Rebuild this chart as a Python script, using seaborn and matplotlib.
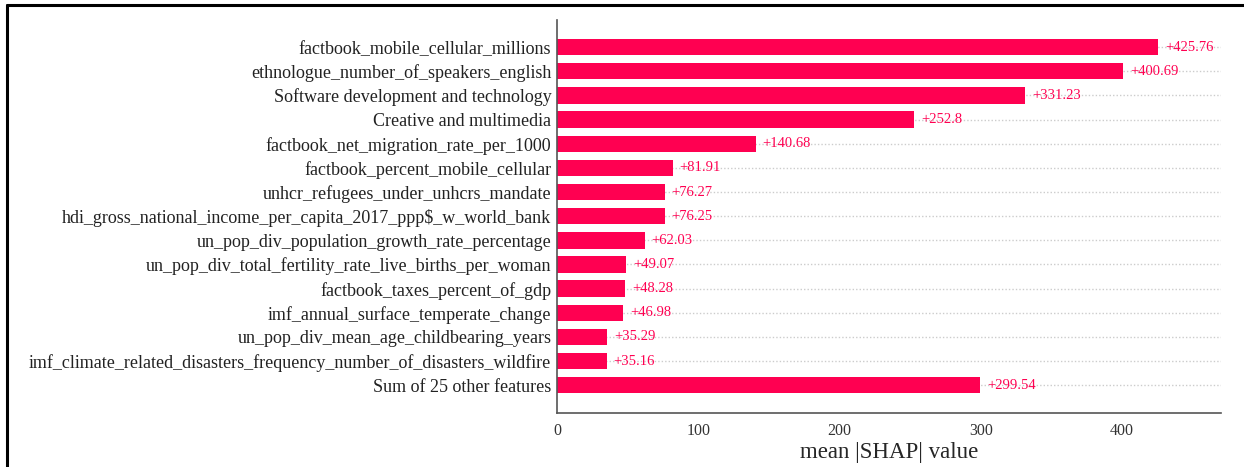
import matplotlib
matplotlib.use("Agg")
import matplotlib.pyplot as plt
import seaborn as sns
import pandas as pd
from matplotlib.lines import Line2D

features = [
    "factbook_mobile_cellular_millions",
    "ethnologue_number_of_speakers_english",
    "Software development and technology",
    "Creative and multimedia",
    "factbook_net_migration_rate_per_1000",
    "factbook_percent_mobile_cellular",
    "unhcr_refugees_under_unhcrs_mandate",
    "hdi_gross_national_income_per_capita_2017_ppp$_w_world_bank",
    "un_pop_div_population_growth_rate_percentage",
    "un_pop_div_total_fertility_rate_live_births_per_woman",
    "factbook_taxes_percent_of_gdp",
    "imf_annual_surface_temperate_change",
    "un_pop_div_mean_age_childbearing_years",
    "imf_climate_related_disasters_frequency_number_of_disasters_wildfire",
    "Sum of 25 other features",
]
mean_abs_shap = [425.76, 400.69, 331.23, 252.8, 140.68, 81.91, 76.27, 76.25,
                 62.03, 49.07, 48.28, 46.98, 35.29, 35.16, 299.54]
value_labels = ["+425.76", "+400.69", "+331.23", "+252.8", "+140.68", "+81.91",
                "+76.27", "+76.25", "+62.03", "+49.07", "+48.28", "+46.98",
                "+35.29", "+35.16", "+299.54"]
x_ticks = [0, 100, 200, 300, 400]

df = pd.DataFrame({"feature": features, "value": mean_abs_shap})

sns.set_style("white")
plt.rcParams["font.family"] = ["Liberation Serif", "DejaVu Serif"]

RED = "#ff0051"

fig = plt.figure(figsize=(12.44, 4.67), dpi=100)
ax = fig.add_axes([0.4477, 0.1156, 0.9815 - 0.4477, 0.957 - 0.1156])

n = len(features)
for i in range(n):
    ax.axhline(i, color="#cccccc", lw=1.0, dashes=(1, 1.5), zorder=-1)

sns.barplot(data=df, x="value", y="feature", orient="h", color=RED,
            width=0.68, saturation=1, ax=ax, zorder=2)
for p in ax.patches:
    p.set_edgecolor("none")

# value annotations just past each bar end
xmax = 470
px_per_unit = (0.9815 - 0.4477) * 1244 / xmax
offset = 7 / px_per_unit
for i, (v, lab) in enumerate(zip(mean_abs_shap, value_labels)):
    ax.text(v + offset, i, lab, ha="left", va="center", color=RED, fontsize=10.5)

ax.set_xlim(0, xmax)
ax.set_ylim(n - 1 + 1.15, -1.12)
ax.set_xticks(x_ticks)
ax.set_xticklabels([str(t) for t in x_ticks])
ax.set_xlabel("mean |SHAP| value", fontsize=16.5, labelpad=2)
ax.set_ylabel("")

ax.tick_params(axis="y", length=0, labelsize=13, pad=4, colors="#222222")
ax.tick_params(axis="x", length=4, width=1, labelsize=11.5, colors="#333333",
               direction="out")
for s in ["top", "right"]:
    ax.spines[s].set_visible(False)
for s in ["left", "bottom"]:
    ax.spines[s].set_color("#555555")
    ax.spines[s].set_linewidth(1.2)

# outer frame (left and top edges)
fig.add_artist(Line2D([0.0055, 0.0055], [0.0, 0.989], color="black", lw=2.2,
                      transform=fig.transFigure))
fig.add_artist(Line2D([0.0055, 1.0], [0.989, 0.989], color="black", lw=2.2,
                      transform=fig.transFigure))

fig.savefig("out.png", dpi=100)
